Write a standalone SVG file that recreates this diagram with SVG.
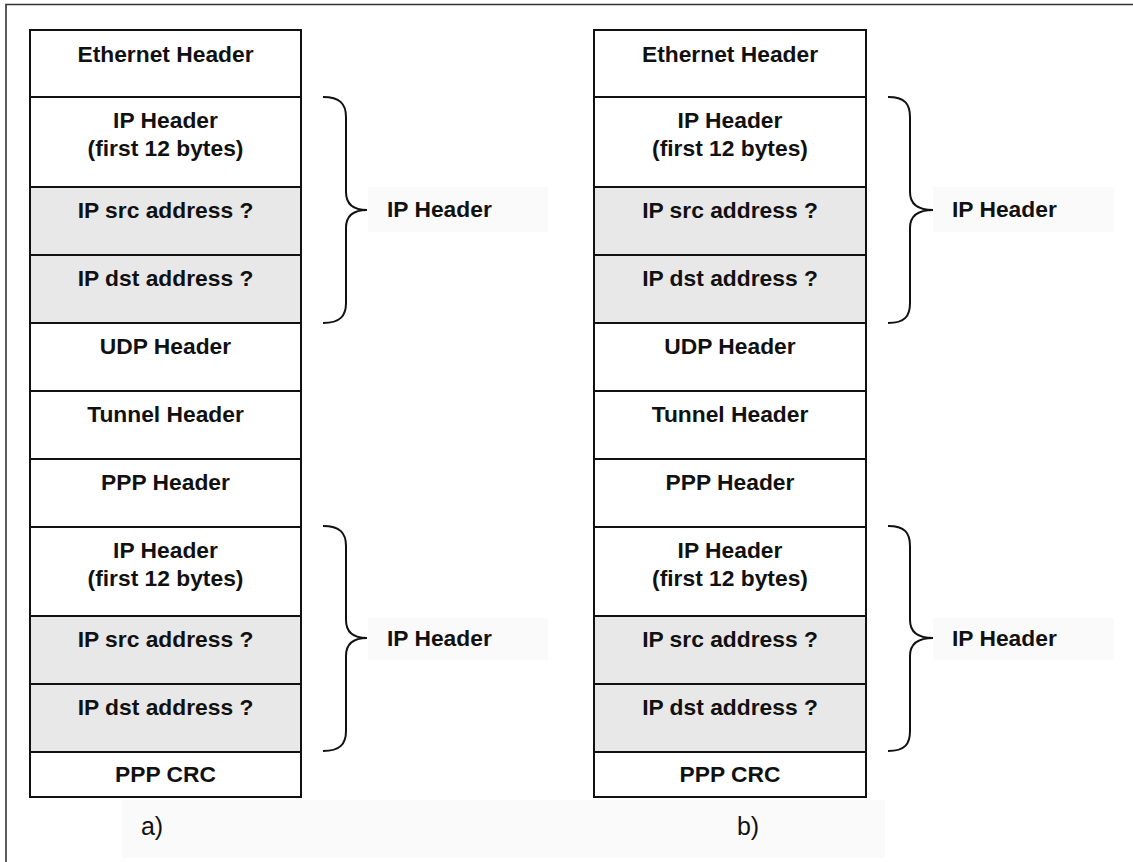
<svg xmlns="http://www.w3.org/2000/svg" width="1133" height="862" viewBox="0 0 1133 862">
<style>
.cell{fill:#ffffff;stroke:#111;stroke-width:2}
.g{fill:#e8e8e8}
.t{font-family:"Liberation Sans",Arial,sans-serif;font-weight:bold;font-size:22.8px;fill:#111;text-anchor:middle}
.lbl{font-family:"Liberation Sans",Arial,sans-serif;font-weight:bold;font-size:22.8px;fill:#111}
.cap{font-family:"Liberation Sans",Arial,sans-serif;font-size:25px;fill:#111;text-anchor:middle}
.brace{fill:none;stroke:#111;stroke-width:2}
.bg{fill:#fafafa}
</style>
<rect width="1133" height="862" fill="#fff"/>
<path d="M6,870 L6,4.5 L1140,4.5" fill="none" stroke="#333" stroke-width="1.6"/>
<rect class="bg" x="122" y="800" width="763" height="58"/>
<rect class="bg" x="368" y="187" width="180" height="45"/>
<rect class="bg" x="933" y="187" width="181" height="45"/>
<rect class="bg" x="368" y="618" width="180" height="42"/>
<rect class="bg" x="933" y="618" width="181" height="42"/>

<g id="stack-a">
<g id="a-eth"><rect class="cell" x="30" y="30" width="271" height="67"/><text class="t" x="165.5" y="62">Ethernet Header</text></g>
<g id="a-ip1"><rect class="cell" x="30" y="97" width="271" height="90"/><text class="t" x="165.5" y="128">IP Header</text><text class="t" x="165.5" y="155.5">(first 12 bytes)</text></g>
<g id="a-src1"><rect class="cell g" x="30" y="187" width="271" height="68"/><text class="t" x="165.5" y="218">IP src address ?</text></g>
<g id="a-dst1"><rect class="cell g" x="30" y="255" width="271" height="68"/><text class="t" x="165.5" y="286">IP dst address ?</text></g>
<g id="a-udp"><rect class="cell" x="30" y="323" width="271" height="68"/><text class="t" x="165.5" y="354">UDP Header</text></g>
<g id="a-tun"><rect class="cell" x="30" y="391" width="271" height="68"/><text class="t" x="165.5" y="422">Tunnel Header</text></g>
<g id="a-ppp"><rect class="cell" x="30" y="459" width="271" height="68"/><text class="t" x="165.5" y="490">PPP Header</text></g>
<g id="a-ip2"><rect class="cell" x="30" y="527" width="271" height="89"/><text class="t" x="165.5" y="558">IP Header</text><text class="t" x="165.5" y="585.5">(first 12 bytes)</text></g>
<g id="a-src2"><rect class="cell g" x="30" y="616" width="271" height="68"/><text class="t" x="165.5" y="647">IP src address ?</text></g>
<g id="a-dst2"><rect class="cell g" x="30" y="684" width="271" height="68"/><text class="t" x="165.5" y="715">IP dst address ?</text></g>
<g id="a-crc"><rect class="cell" x="30" y="752" width="271" height="45"/><text class="t" x="165.5" y="782">PPP CRC</text></g>
</g>

<g id="stack-b">
<g id="b-eth"><rect class="cell" x="594" y="30" width="272" height="67"/><text class="t" x="730" y="62">Ethernet Header</text></g>
<g id="b-ip1"><rect class="cell" x="594" y="97" width="272" height="90"/><text class="t" x="730" y="128">IP Header</text><text class="t" x="730" y="155.5">(first 12 bytes)</text></g>
<g id="b-src1"><rect class="cell g" x="594" y="187" width="272" height="68"/><text class="t" x="730" y="218">IP src address ?</text></g>
<g id="b-dst1"><rect class="cell g" x="594" y="255" width="272" height="68"/><text class="t" x="730" y="286">IP dst address ?</text></g>
<g id="b-udp"><rect class="cell" x="594" y="323" width="272" height="68"/><text class="t" x="730" y="354">UDP Header</text></g>
<g id="b-tun"><rect class="cell" x="594" y="391" width="272" height="68"/><text class="t" x="730" y="422">Tunnel Header</text></g>
<g id="b-ppp"><rect class="cell" x="594" y="459" width="272" height="68"/><text class="t" x="730" y="490">PPP Header</text></g>
<g id="b-ip2"><rect class="cell" x="594" y="527" width="272" height="89"/><text class="t" x="730" y="558">IP Header</text><text class="t" x="730" y="585.5">(first 12 bytes)</text></g>
<g id="b-src2"><rect class="cell g" x="594" y="616" width="272" height="68"/><text class="t" x="730" y="647">IP src address ?</text></g>
<g id="b-dst2"><rect class="cell g" x="594" y="684" width="272" height="68"/><text class="t" x="730" y="715">IP dst address ?</text></g>
<g id="b-crc"><rect class="cell" x="594" y="752" width="272" height="45"/><text class="t" x="730" y="782">PPP CRC</text></g>
</g>

<g id="connectors">
<path class="brace" d="M323,97 C340,97 346,104 346,117 L346,192 C346,204 353,210 367,210 C353,210 346,216 346,228 L346,303 C346,316 340,323 323,323"/>
<path class="brace" d="M323,526 C340,526 346,533 346,546 L346,620 C346,632 353,638 367,638 C353,638 346,644 346,656 L346,731 C346,744 340,751 323,751"/>
<path class="brace" d="M888,97 C905,97 910,104 910,117 L910,192 C910,204 917,210 933,210 C917,210 910,216 910,228 L910,303 C910,316 905,323 888,323"/>
<path class="brace" d="M888,526 C905,526 910,533 910,546 L910,620 C910,632 917,638 933,638 C917,638 910,644 910,656 L910,731 C910,744 905,751 888,751"/>
</g>

<g id="labels">
<text class="lbl" x="387" y="217">IP Header</text>
<text class="lbl" x="952" y="217">IP Header</text>
<text class="lbl" x="387" y="646">IP Header</text>
<text class="lbl" x="952" y="646">IP Header</text>
<text class="cap" x="152" y="835">a)</text>
<text class="cap" x="748" y="835">b)</text>
</g>
</svg>
